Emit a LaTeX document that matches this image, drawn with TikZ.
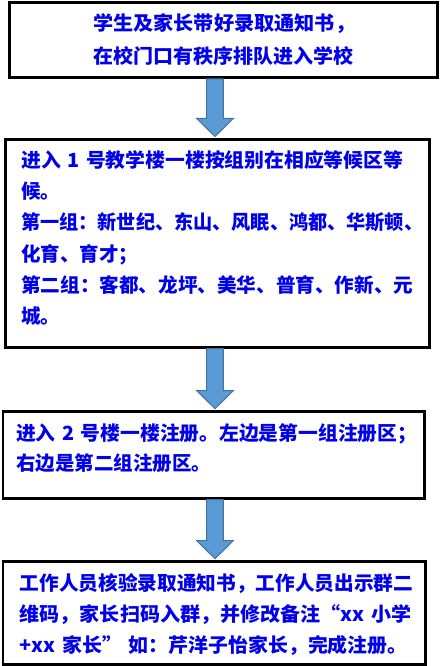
\documentclass[tikz,border=0pt]{standalone}
\usepackage{fontspec}
\usepackage{graphicx}
\newfontfamily\cjk{Noto Sans CJK SC}
\usetikzlibrary{calc}
\definecolor{txtblue}{RGB}{0,0,235}
\definecolor{arrfill}{RGB}{91,155,213}
\definecolor{arrline}{RGB}{65,113,156}
\newcommand{\txtfont}[1]{\cjk\bfseries\fontsize{19.5pt}{#1}\selectfont}
\newcommand{\fitw}[2]{\resizebox{#1}{\height}{#2}}
\begin{document}
\begin{tikzpicture}[x=1pt,y=-1pt,
  box/.style={draw=black, line width=2.7pt, fill=white, inner sep=0pt, outer sep=0pt},
  txt/.style={text=txtblue, inner sep=0pt, align=left, text width=415pt, anchor=base west},
  blockarrow/.style={fill=arrfill, draw=arrline, line width=1pt, line join=miter}]
\useasboundingbox (0,0) rectangle (440,666);
\node[box, minimum width=428pt, minimum height=75pt] (b1) at (223.5,40) {};
\node[box, minimum width=424.2pt, minimum height=207.8pt] (b2) at (217.4,243.4) {};
\node[box, minimum width=421.7pt, minimum height=86.6pt] (b3) at (213.85,455) {};
\node[box, minimum width=422.7pt, minimum height=103pt] (b4) at (214.35,613.2) {};
\coordinate (ax) at (215,0);
\foreach \a/\b in {b1/b2,b2/b3,b3/b4}{
  \draw[blockarrow] let \p1=(\a.south -| ax), \p2=(\b.north -| ax) in
    (\x1-8.3pt,\y1-1.3pt) -- (\x1-8.3pt,\y2+21pt) -- (\x1-18.3pt,\y2+21pt) --
    (\x1,\y2+3pt) -- (\x1+18.3pt,\y2+21pt) -- (\x1+8.3pt,\y2+21pt) --
    (\x1+8.3pt,\y1-1.3pt) -- cycle;
}
\node[txt, text width=300pt, font={\txtfont{32.5pt}}] (t1) at (93,31)
  {\fitw{262pt}{学生及家长带好录取通知书，}\\\fitw{260pt}{在校门口有秩序排队进入学校}};
\node[txt, font={\txtfont{31.2pt}}] (t2) at (21,167.5)
  {\fitw{382pt}{进入 1 号教学楼一楼按组别在相应等候区等}\\候。\\\fitw{402pt}{第一组：新世纪、东山、风眠、鸿都、华斯顿、}\\化育、育才；\\\fitw{392pt}{第二组：客都、龙坪、美华、普育、作新、元}\\城。};
\node[txt, font={\txtfont{30pt}}] (t3) at (16,440.3)
  {\fitw{401pt}{进入 2 号楼一楼注册。左边是第一组注册区；}\\右边是第二组注册区。};
\node[txt, font={\txtfont{31pt}}] (t4) at (19.5,590.8)
  {\fitw{393.5pt}{工作人员核验录取通知书，工作人员出示群二}\\\fitw{392pt}{维码，家长扫码入群，并修改备注“xx 小学}\\\fitw{388pt}{+xx 家长” 如：芹洋子怡家长，完成注册。}};
\end{tikzpicture}
\end{document}
